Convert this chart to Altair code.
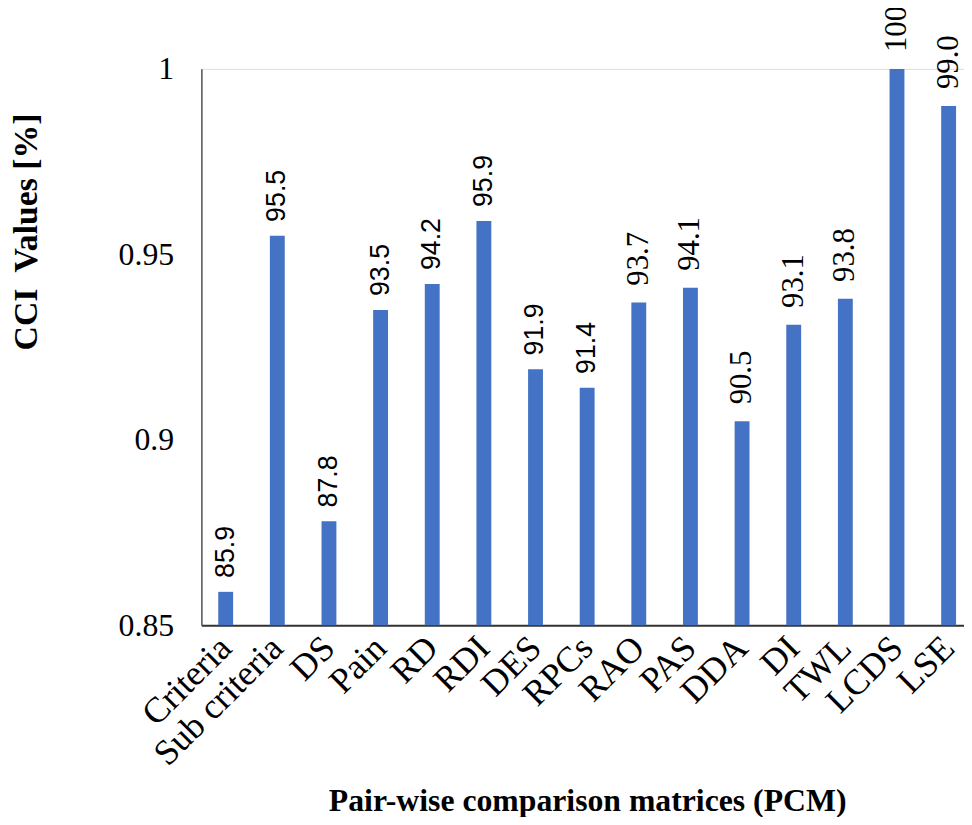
import altair as alt
import pandas as pd

categories = ["Criteria", "Sub criteria", "DS", "Pain", "RD", "RDI", "DES", "RPCs",
              "RAO", "PAS", "DDA", "DI", "TWL", "LCDS", "LSE"]
cci_values = [0.859, 0.955, 0.878, 0.935, 0.942, 0.959, 0.919, 0.914,
              0.937, 0.941, 0.905, 0.931, 0.938, 1.000, 0.990]
value_labels = ["85.9", "95.5", "87.8", "93.5", "94.2", "95.9", "91.9", "91.4",
                "93.7", "94.1", "90.5", "93.1", "93.8", "100", "99.0"]
y_ticks = [0.85, 0.9, 0.95, 1.0]
sans_labelled = categories[:8]

df = pd.DataFrame({"cat": categories, "v": cci_values, "lab": value_labels})

SERIF = "Liberation Serif"

x_enc = alt.X(
    "cat:N", sort=categories,
    scale=alt.Scale(range=[0, 778], paddingInner=0.712, paddingOuter=0.3265),
    axis=alt.Axis(
        title="Pair-wise comparison matrices (PCM)",
        titleFont=SERIF, titleFontWeight="bold", titleFontSize=32, titleColor="black",
        titleY=177, titleBaseline="middle",
        labelAngle=-45, labelAlign="right", labelBaseline="middle",
        labelFont=SERIF, labelFontSize=36, labelColor="black", labelPadding=17,
        ticks=False, grid=False, domainColor="#333333", domainWidth=2,
    ),
)
y_enc = alt.Y(
    "v:Q",
    scale=alt.Scale(domain=[0.85, 1.0], zero=False, nice=False),
    axis=alt.Axis(
        values=y_ticks, labelExpr="format(datum.value, '~g')",
        labelFont=SERIF, labelFontSize=32, labelColor="black", labelPadding=28,
        ticks=False, grid=False, domainColor="#555555", domainWidth=1.5,
        title="CCI\u00a0 Values [%]", titleFont=SERIF, titleFontWeight="bold",
        titleFontSize=34, titleColor="black",
        titleAngle=270, titleX=-176, titleY=164,
        titleAlign="center", titleBaseline="middle",
    ),
)

base = alt.Chart(df)

bars = base.mark_bar(color="#4472C4").encode(x=x_enc, y=y_enc, y2=alt.datum(0.85))

sans_text = base.transform_filter(
    alt.FieldOneOfPredicate(field="cat", oneOf=sans_labelled)
).mark_text(angle=270, align="left", baseline="middle", dx=14,
            font="Liberation Sans", fontSize=27, color="black").encode(
    x=alt.X("cat:N", sort=categories), y="v:Q", text="lab:N")

serif_text = base.transform_filter(
    {"not": alt.FieldOneOfPredicate(field="cat", oneOf=sans_labelled)}
).mark_text(angle=270, align="left", baseline="middle", dx=17,
            font=SERIF, fontSize=31, color="black").encode(
    x=alt.X("cat:N", sort=categories), y="v:Q", text="lab:N")

chart = alt.layer(bars, sans_text, serif_text).properties(
    width=769, height=561,
    autosize=alt.AutoSizeParams(type="none"),
    padding={"left": 195, "top": 58, "right": 0, "bottom": 190},
).configure_view(stroke=None).configure(background="white")

chart.save("out.html", embed_options={"renderer": "svg", "actions": False})
